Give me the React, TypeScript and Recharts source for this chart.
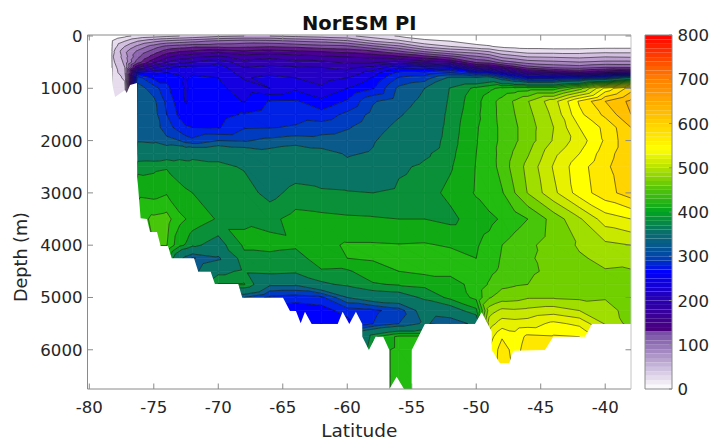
import React from 'react';
import { ComposedChart, BarChart, Bar, Area, Scatter, XAxis, YAxis } from 'recharts';

// ---- field: one profile per latitude, one value per depth ----
const DEPTHS = [0,100,200,300,400,500,600,700,800,1000,1250,1500,1750,2000,2250,2500,3000,3500,4000,4250,4500,4750,5000,5250,5500,5750,6000,6750];
const LATS = [-78.3,-78.2,-77.25,-76.25,-75,-74,-73,-72.5,-72,-70,-68,-66,-64,-62,-60,-58,-56,-54,-52,-50,-49,-48,-47,-46,-44,-42,-40,-38];

const pA = [0,0,0,0,0,0,0,0,0,0,0,0,0,0,0,0,0,0,0,0,0,0,0,0,0,0,0,0];
const pB = [5,22,28,35,38,35,30,28,25,25,25,25,25,25,25,25,25,25,25,25,25,25,25,25,25,25,25,25];
const pC = [15,40,60,75,70,65,60,55,45,30,25,25,25,25,25,25,25,25,25,25,25,25,25,25,25,25,25,25];
const pD = [25,60,85,105,115,130,180,260,310,330,332,333,335,338,360,394,415,430,430,430,430,430,430,430,430,430,430,430];
const pE = [30,75,110,130,150,175,215,255,275,310,325,328,330,336,358,396,412,445,440,425,420,420,420,420,420,420,420,420];
const pF = [35,85,125,150,175,200,235,260,275,285,295,300,310,325,365,398,418,448,441,410,400,400,400,400,400,400,400,400];
const pG = [40,90,130,160,190,215,245,258,262,265,268,275,290,320,370,392,405,425,405,350,335,330,330,330,330,330,330,330];
const pH = [42,92,132,162,190,215,245,256,259,258,258,268,282,310,368,390,402,420,398,330,325,325,325,325,325,325,325,325];
const pI = [44,95,135,165,195,220,248,258,262,265,268,272,280,305,372,390,400,412,385,318,330,330,330,330,330,330,330,330];
const pJ = [55,105,135,175,205,235,250,256,260,265,268,272,278,320,372,385,396,398,370,335,372,402,400,400,400,400,400,400];
const pK = [60,110,135,165,190,205,220,230,238,250,259,282,298,318,360,378,390,398,403,395,385,402,320,300,300,300,300,300];
const pL = [60,108,138,170,195,212,225,235,245,240,282,290,299,325,350,355,372,395,405,395,388,345,295,280,280,280,280,280];
const pM = [55,100,135,165,190,205,222,232,240,255,283,292,302,330,358,366,388,407,403,392,385,345,290,265,275,275,275,275];
const pN = [50,95,128,160,185,205,220,226,232,243,265,288,310,328,348,355,385,405,415,410,398,375,295,270,275,275,275,275];
const pO = [45,85,125,155,180,195,215,225,240,260,283,305,318,330,338,345,383,403,422,420,397,385,340,290,270,270,270,270];
const pP = [30,60,105,145,175,195,225,250,262,278,318,326,332,338,342,350,380,402,422,422,412,398,360,295,300,395,410,410];
const pQ = [18,45,85,125,165,205,255,285,302,325,332,338,345,352,360,375,386,400,421,425,420,402,365,310,320,425,425,425];
const pR = [10,25,55,100,150,190,250,285,310,340,345,350,355,360,375,385,392,400,422,428,425,405,385,355,345,425,425,425];
const pS = [8,20,40,80,130,180,255,300,345,382,385,388,390,392,395,398,405,395,418,428,425,412,405,365,320,420,420,420];
const pT = [5,12,25,70,105,135,190,275,345,405,413,415,418,419,420,421,422,410,418,420,425,427,425,395,350,420,420,420];
const pU = [4,10,22,60,95,130,185,270,355,415,432,432,430,430,429,428,434,414,427,430,435,442,458,490,510,530,540,540];
const pV = [3,8,15,45,75,110,170,240,320,425,447,446,445,445,448,449,438,423,440,442,444,455,470,505,530,558,570,575];
const pV2 = [3,6,13,38,68,100,150,215,295,428,463,460,457,457,463,468,460,432,448,450,450,458,472,503,528,548,552,560];
const pW = [2,5,12,32,60,90,130,190,270,430,479,474,470,470,478,486,481,440,455,457,456,460,478,505,530,565,570,575];
const pX = [2,4,10,32,58,85,115,180,270,430,512,505,500,502,515,522,515,468,470,468,465,472,478,510,545,562,565,565];
const pY = [2,4,10,32,55,80,110,165,280,470,563,555,540,530,540,552,549,497,482,478,475,472,476,500,535,560,560,560];
const pZ = [1,3,12,35,60,85,120,180,300,545,600,585,565,563,570,575,572,530,495,484,479,470,478,490,498,525,540,550];
const pAA = [1,3,12,35,58,85,118,190,350,590,625,620,600,597,597,600,590,540,500,490,478,472,470,470,472,500,510,520];
const PROFILES = [pA,pB,pC,pD,pE,pF,pG,pH,pI,pJ,pK,pL,pM,pN,pO,pP,pQ,pR,pS,pT,pU,pV,pV2,pW,pX,pY,pZ,pAA];

// sea floor (and the edge of the sampled area), latitude / depth
const FLOOR_LAT = [-78.6,-78.24,-78.16,-78,-77.23,-77.1,-76.84,-76.3,-76.28,-76.02,-75.53,-75.29,-74.75,-74.47,-73.9,-73.61,-71.88,-71.55,-70.59,-70.26,-68.45,-68.14,-64.98,-64.44,-63.98,-63.61,-63.28,-62.76,-60.74,-60.36,-59.84,-59.33,-58.84,-58.83,-58.32,-57.8,-57.21,-56.74,-56.73,-56.17,-55.6,-55.01,-55,-53.98,-50.1,-49.58,-48.8,-48.79,-48.16,-47.44,-47.13,-44.67,-44.03,-41.57,-41.03,-38];
const FLOOR_DEPTH = [612,612,994,1166,1032,1090,937,899,2690,3486,3499,3748,3748,4015,4015,4250,4250,4507,4507,4742,4742,5004,5004,5258,5258,5493,5272,5507,5507,5272,5507,5272,5507,5750,6003,5750,5750,6003,6750,6514,6750,6750,6003,5507,5507,5283,5654,6003,6258,6258,6017,6003,5750,5750,5507,5507];

const LEVELS = [0,20,40,60,80,100,120,140,160,180,200,220,240,260,280,300,320,340,380,400,420,440,460,480,500,520,540,560,580,600,620,640];
const FILLS = ['#ffffff','#e6dcee','#d2bfdf','#bb9fcf','#a684bf','#8f66b0','#7a4aa0','#5f1a88','#4a0090','#3c00a0','#3000b0','#2400c4','#1400e0','#0000ff','#0022e6','#003cc0','#0a5a8c','#0a7464','#0a9038','#10aa15','#22bb0f','#48c60a','#70d000','#a0dd00','#c8e800','#e8f200','#ffff00','#ffe800','#ffd400','#ffc000','#ffb000'];

const LAT_TICKS = [-80,-75,-70,-65,-60,-55,-50,-45,-40];
const DEPTH_TICKS = [0,1000,2000,3000,4000,5000,6000];
const BAR_TICKS = [0,100,200,300,400,500,600,700,800];
const BAR_STOPS: [number, number[]][] = [[0,[255,255,255]],[132,[112,70,160]],[134,[75,0,125]],[200,[40,0,176]],[265,[0,0,255]],[300,[0,72,168]],[350,[10,106,112]],[400,[0,165,32]],[450,[80,195,10]],[500,[181,225,0]],[540,[255,255,0]],[600,[255,208,0]],[700,[255,128,0]],[800,[255,0,0]]];
const BAR_STEP = 10;

// ---- layout ----
const W = 712, H = 442;
const LEFT = 87.5, RIGHT = 631, TOP = 35, BOTTOM = 389;
const LAT_DOMAIN: [number, number] = [-80.14, -38];
const DEPTH_DOMAIN: [number, number] = [-19, 6750];
const PX_LAT = (RIGHT - LEFT) / (LAT_DOMAIN[1] - LAT_DOMAIN[0]);
const PX_DEPTH = (BOTTOM - TOP) / (DEPTH_DOMAIN[1] - DEPTH_DOMAIN[0]);
const AXIS = '#8a8a8a', TEXT = '#262626', FONT = 'DejaVu Sans';
const TICK_FONT = 16.6;

type Pt = [number, number, number];

const cellNodes: any[] = [];
LATS.slice(0, -1).forEach((lat, i) => {
  DEPTHS.slice(0, -1).forEach((depth, j) => {
    cellNodes.push({
      lat, depth,
      dw: (LATS[i + 1] - lat) * PX_LAT,
      dh: (DEPTHS[j + 1] - depth) * PX_DEPTH,
      v: [PROFILES[i][j], PROFILES[i + 1][j], PROFILES[i][j + 1], PROFILES[i + 1][j + 1]],
    });
  });
});

const floorData = FLOOR_LAT.map((lat, i) => ({ lat, depth: FLOOR_DEPTH[i], range: [FLOOR_DEPTH[i], DEPTH_DOMAIN[1]] }));

const f = (n: number) => n.toFixed(2);

function clip(poly: Pt[], level: number, keepAbove: boolean): Pt[] {
  const out: Pt[] = [];
  for (let i = 0; i < poly.length; i++) {
    const a = poly[i], b = poly[(i + 1) % poly.length];
    const ina = keepAbove ? a[2] >= level : a[2] <= level;
    const inb = keepAbove ? b[2] >= level : b[2] <= level;
    if (ina) out.push(a);
    if (ina !== inb) {
      const t = (level - a[2]) / (b[2] - a[2]);
      out.push([a[0] + t * (b[0] - a[0]), a[1] + t * (b[1] - a[1]), level]);
    }
  }
  return out;
}

function triangles(p: any): Pt[][] {
  const { cx, cy, payload } = p;
  const { dw, dh, v } = payload;
  const a: Pt = [cx, cy, v[0]], b: Pt = [cx + dw, cy, v[1]], c: Pt = [cx, cy + dh, v[2]], d: Pt = [cx + dw, cy + dh, v[3]];
  return [[a, b, d], [a, d, c]];
}

function FillCell(p: any) {
  const paths: Record<string, string> = {};
  triangles(p).forEach((tri) => {
    const lo = Math.min(tri[0][2], tri[1][2], tri[2][2]);
    const hi = Math.max(tri[0][2], tri[1][2], tri[2][2]);
    FILLS.forEach((col, k) => {
      const l0 = LEVELS[k], l1 = LEVELS[k + 1];
      if (hi < l0 || lo >= l1) return;
      let poly = clip(tri, l0, true);
      if (poly.length) poly = clip(poly, l1, false);
      if (poly.length < 3) return;
      paths[col] = (paths[col] || '') + 'M' + poly.map((q) => f(q[0]) + ' ' + f(q[1])).join('L') + 'Z';
    });
  });
  return (
    <g>
      {Object.keys(paths).map((col) => (
        <path key={col} d={paths[col]} fill={col} stroke={col} strokeWidth={0.6} />
      ))}
    </g>
  );
}

function LineCell(p: any) {
  let d = '';
  triangles(p).forEach((tri) => {
    LEVELS.slice(1).forEach((level) => {
      const cuts: number[][] = [];
      for (let i = 0; i < 3; i++) {
        const a = tri[i], b = tri[(i + 1) % 3];
        if ((a[2] < level) !== (b[2] < level)) {
          const t = (level - a[2]) / (b[2] - a[2]);
          cuts.push([a[0] + t * (b[0] - a[0]), a[1] + t * (b[1] - a[1])]);
        }
      }
      if (cuts.length === 2) d += `M${f(cuts[0][0])} ${f(cuts[0][1])}L${f(cuts[1][0])} ${f(cuts[1][1])}`;
    });
  });
  return d ? <path d={d} fill="none" stroke="#101010" strokeWidth={0.65} strokeOpacity={0.85} /> : <g />;
}

const BottomTick = (p: any) => (
  <g>
    <line x1={p.x} x2={p.x} y1={p.y} y2={p.y - 5.5} stroke={AXIS} />
    <text x={p.x} y={p.y + 24} textAnchor="middle" fontSize={TICK_FONT} fontFamily={FONT} fill={TEXT}>{p.payload.value}</text>
  </g>
);
const TopTick = (p: any) => <line x1={p.x} x2={p.x} y1={p.y} y2={p.y + 5.5} stroke={AXIS} />;
const LeftTick = (p: any) => (
  <g>
    <line x1={p.x} x2={p.x + 5.5} y1={p.y} y2={p.y} stroke={AXIS} />
    <text x={p.x - 5} y={p.y + 6} textAnchor="end" fontSize={TICK_FONT} fontFamily={FONT} fill={TEXT}>{p.payload.value}</text>
  </g>
);
const RightTick = (p: any) => <line x1={p.x} x2={p.x - 5.5} y1={p.y} y2={p.y} stroke={AXIS} />;
const BarTick = (p: any) => (
  <g>
    <line x1={p.x} x2={p.x - 3} y1={p.y} y2={p.y} stroke={AXIS} />
    <text x={p.x + 5.5} y={p.y + 6} textAnchor="start" fontSize={TICK_FONT} fontFamily={FONT} fill={TEXT}>{p.payload.value}</text>
  </g>
);

// colour bar
const barKeys: string[] = [];
const barRow: Record<string, number | string> = { name: 'bar' };
for (let v = 0; v < 800; v += BAR_STEP) {
  barKeys.push('b' + v);
  barRow['b' + v] = BAR_STEP;
}
function barColor(v: number) {
  for (let i = 0; i < BAR_STOPS.length - 1; i++) {
    const [a, ca] = BAR_STOPS[i], [b, cb] = BAR_STOPS[i + 1];
    if (v <= b) {
      const t = (v - a) / (b - a);
      return `rgb(${ca.map((c, k) => Math.round(c + t * (cb[k] - c))).join(',')})`;
    }
  }
  return 'rgb(255,0,0)';
}

export default function App() {
  return (
    <div style={{ position: 'absolute', left: 0, top: 0, width: W, height: H, background: '#fff' }}>
      <div style={{ position: 'absolute', left: 0, top: 0 }}>
        <ComposedChart
          width={W}
          height={H}
          margin={{ left: LEFT - 1, right: W - RIGHT - 1, top: TOP - 1, bottom: H - BOTTOM - 1 }}
        >
          <Scatter name="fill" data={cellNodes} shape={FillCell} isAnimationActive={false} zIndex={10} />
          <Scatter name="contours" data={cellNodes} shape={LineCell} isAnimationActive={false} zIndex={20} />
          <Area
            data={floorData}
            dataKey="range"
            type="linear"
            fill="#ffffff"
            fillOpacity={1}
            stroke="none"
            dot={false}
            activeDot={false}
            isAnimationActive={false}
            zIndex={30}
          />
          <XAxis
            dataKey="lat"
            type="number"
            domain={LAT_DOMAIN}
            ticks={LAT_TICKS}
            allowDataOverflow
            height={1}
            tickSize={0}
            tickMargin={0}
            tickLine={false}
            tick={BottomTick}
            axisLine={{ stroke: AXIS }}
            interval={0}
            label={{ value: 'Latitude', position: 'bottom', offset: 34, fontSize: 18.5, fontFamily: FONT, fill: TEXT }}
          />
          <XAxis
            xAxisId="top"
            orientation="top"
            dataKey="lat"
            type="number"
            domain={LAT_DOMAIN}
            ticks={LAT_TICKS}
            allowDataOverflow
            height={1}
            tickSize={0}
            tickMargin={0}
            tickLine={false}
            tick={TopTick}
            axisLine={{ stroke: AXIS }}
            interval={0}
            label={{ value: 'NorESM PI', position: 'top', offset: 4, fontSize: 19.5, fontWeight: 'bold', fontFamily: FONT, fill: '#111' }}
          />
          <YAxis
            dataKey="depth"
            type="number"
            reversed
            domain={DEPTH_DOMAIN}
            ticks={DEPTH_TICKS}
            allowDataOverflow
            width={1}
            tickSize={0}
            tickMargin={0}
            tickLine={false}
            tick={LeftTick}
            axisLine={{ stroke: AXIS }}
            interval={0}
            label={{ value: 'Depth (m)', angle: -90, position: 'left', offset: 66, fontSize: 17.6, fontFamily: FONT, fill: TEXT }}
          />
          <YAxis
            yAxisId="right"
            orientation="right"
            dataKey="depth"
            type="number"
            reversed
            domain={DEPTH_DOMAIN}
            ticks={DEPTH_TICKS}
            allowDataOverflow
            width={1}
            tickSize={0}
            tickMargin={0}
            tickLine={false}
            tick={RightTick}
            axisLine={{ stroke: '#c4c4c4' }}
            interval={0}
          />
        </ComposedChart>
      </div>
      <div style={{ position: 'absolute', left: 630, top: 0 }}>
        <BarChart
          width={82}
          height={H}
          data={[barRow]}
          barCategoryGap={0}
          margin={{ left: 14, right: 39, top: TOP - 1, bottom: H - BOTTOM - 1 }}
        >
          <XAxis dataKey="name" height={1} tick={false} tickLine={false} axisLine={{ stroke: AXIS }} />
          <XAxis xAxisId="top" orientation="top" dataKey="name" height={1} tick={false} tickLine={false} axisLine={{ stroke: AXIS }} />
          <YAxis yAxisId="left" width={1} domain={[0, 800]} tick={false} tickLine={false} axisLine={{ stroke: AXIS }} />
          <YAxis
            orientation="right"
            width={1}
            domain={[0, 800]}
            ticks={BAR_TICKS}
            tickSize={0}
            tickMargin={0}
            tickLine={false}
            tick={BarTick}
            axisLine={{ stroke: AXIS }}
            interval={0}
          />
          {barKeys.map((k, i) => (
            <Bar key={k} dataKey={k} stackId="bar" fill={barColor(i * BAR_STEP + BAR_STEP / 2)} stroke="none" isAnimationActive={false} />
          ))}
        </BarChart>
      </div>
    </div>
  );
}
